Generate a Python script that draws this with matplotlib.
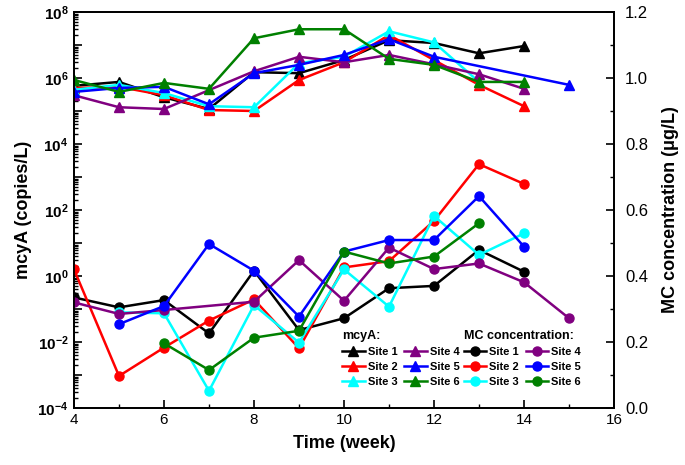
import numpy as np
import matplotlib
matplotlib.use('Agg')
import matplotlib.pyplot as plt
from matplotlib.ticker import FixedLocator, FixedFormatter, MultipleLocator, FormatStrFormatter, LogLocator, NullFormatter

plt.rcParams['font.family'] = ['Liberation Sans', 'DejaVu Sans']
plt.rcParams['mathtext.fontset'] = 'custom'
plt.rcParams['mathtext.bf'] = 'Liberation Sans:bold'
plt.rcParams['mathtext.rm'] = 'Liberation Sans:bold'

colors = ['black', '#ff0000', '#00ffff', '#800080', '#0000ff', '#008000']
sites = ['Site 1', 'Site 2', 'Site 3', 'Site 4', 'Site 5', 'Site 6']

# mcyA (copies/L), weeks per site
mcya_weeks = [
    [4, 5, 6, 7, 8, 9, 10, 11, 12, 13, 14],
    [4, 5, 6, 7, 8, 9, 10, 11, 12, 13, 14],
    [4, 5, 6, 7, 8, 9, 10, 11, 12, 13],
    [4, 5, 6, 8, 9, 10, 11, 12, 13, 14],
    [4, 5, 6, 7, 8, 9, 10, 11, 12, 15],
    [4, 5, 6, 7, 8, 9, 10, 11, 12, 13, 14],
]
mcya_vals = [
    [5.8e5, 7.6e5, 2.6e5, 1.15e5, 1.5e6, 1.4e6, 3.5e6, 1.4e7, 1.15e7, 5.6e6, 9.3e6],
    [5.0e5, 5.4e5, 3.0e5, 1.07e5, 1.0e5, 8.7e5, 3.0e6, 2.0e7, 3.5e6, 6.2e5, 1.4e5],
    [4.4e5, 6.2e5, 3.5e5, 1.4e5, 1.3e5, 2.8e6, 4.4e6, 2.6e7, 1.2e7, 7.6e5],
    [3.0e5, 1.3e5, 1.15e5, 1.6e6, 4.4e6, 3.0e6, 5.0e6, 2.6e6, 1.3e6, 4.7e5],
    [3.8e5, 5.0e5, 5.4e5, 1.6e5, 1.4e6, 2.5e6, 5.0e6, 1.5e7, 4.4e6, 6.2e5],
    [8.7e5, 3.8e5, 7.1e5, 4.7e5, 1.6e7, 3.0e7, 3.0e7, 3.8e6, 2.5e6, 7.6e5, 7.6e5],
]

# MC concentration (ug/L), weeks per site
mc_weeks = [
    [4, 5, 6, 7, 8, 9, 10, 11, 12, 13, 14],
    [4, 5, 6, 7, 8, 9, 10, 11, 12, 13, 14],
    [5, 6, 7, 8, 9, 10, 11, 12, 13, 14],
    [4, 5, 6, 8, 9, 10, 11, 12, 13, 14, 15],
    [5, 6, 7, 8, 9, 10, 11, 12, 13, 14],
    [6, 7, 8, 9, 10, 11, 12, 13],
]
mc_vals = [
    [0.335, 0.305, 0.327, 0.226, 0.416, 0.236, 0.272, 0.363, 0.37, 0.479, 0.413],
    [0.42, 0.097, 0.183, 0.265, 0.329, 0.181, 0.426, 0.445, 0.567, 0.739, 0.679],
    [0.29, 0.287, 0.052, 0.312, 0.198, 0.42, 0.307, 0.582, 0.464, 0.529],
    [0.32, 0.285, 0.297, 0.322, 0.448, 0.325, 0.486, 0.421, 0.438, 0.381, 0.272],
    [0.254, 0.309, 0.497, 0.416, 0.277, 0.474, 0.509, 0.509, 0.642, 0.489],
    [0.196, 0.115, 0.213, 0.234, 0.474, 0.438, 0.459, 0.56],
]

fig = plt.figure(figsize=(6.85, 4.65), dpi=100)
ax = fig.add_axes([74/685, 57/465, 540/685, 396/465])
ax2 = ax.twinx()

h1 = []
for w, v, c, s in zip(mcya_weeks, mcya_vals, colors, sites):
    l, = ax.plot(w, v, color=c, lw=1.8, marker='^', ms=7, label=s)
    h1.append(l)
h2 = []
for w, v, c, s in zip(mc_weeks, mc_vals, colors, sites):
    l, = ax2.plot(w, v, color=c, lw=1.8, marker='o', ms=6.5, label=s)
    h2.append(l)

ax.set_yscale('log')
ax.set_ylim(1e-4, 1e8)
ax.set_xlim(4, 16)
ax.yaxis.set_major_locator(FixedLocator([10.0**k for k in range(-4, 9)]))
ax.yaxis.set_major_formatter(FixedFormatter(
    [r'$\mathbf{10^{%d}}$' % k if k % 2 == 0 else '' for k in range(-4, 9)]))
ax.yaxis.set_minor_locator(LogLocator(base=10, subs=np.arange(2, 10), numticks=20))
ax.yaxis.set_minor_formatter(NullFormatter())
ax.xaxis.set_major_locator(MultipleLocator(2))
ax.xaxis.set_minor_locator(MultipleLocator(1))

ax2.set_ylim(0, 1.2)
ax2.yaxis.set_major_locator(MultipleLocator(0.2))
ax2.yaxis.set_minor_locator(MultipleLocator(0.1))
ax2.yaxis.set_major_formatter(FormatStrFormatter('%.1f'))

ax.tick_params(axis='both', which='major', direction='in', length=6, width=1.2, labelsize=11)
ax.tick_params(axis='both', which='minor', direction='in', length=3, width=1)
ax.tick_params(axis='y', labelsize=11, pad=4)
ax2.tick_params(axis='y', which='major', direction='in', length=6, width=1.2, labelsize=12, pad=8)
ax2.tick_params(axis='y', which='minor', direction='in', length=3, width=1)

for a in (ax, ax2):
    for sp in a.spines.values():
        sp.set_linewidth(1.3)

ax.set_xlabel('Time (week)', fontsize=13, fontweight='bold', labelpad=6)
ax.set_ylabel('mcyA (copies/L)', fontsize=13, fontweight='bold', labelpad=4)
ax2.set_ylabel('MC concentration (\u03bcg/L)', fontsize=13, fontweight='bold', labelpad=10)

leg_kw = dict(ncol=2, frameon=False, loc='upper left', handlelength=2.0,
              handletextpad=0.3, columnspacing=0.6, labelspacing=0.45,
              borderpad=0, borderaxespad=0, alignment='left',
              prop={'weight': 'bold', 'size': 8},
              title_fontproperties={'weight': 'bold', 'size': 9})
leg1 = ax2.legend(handles=h1, title='mcyA:', bbox_to_anchor=(0.497, 0.198), **leg_kw)
leg1._legend_box.sep = 4
ax2.add_artist(leg1)
leg2 = ax2.legend(handles=h2, title='MC concentration:', bbox_to_anchor=(0.722, 0.198), **leg_kw)
leg2._legend_box.sep = 4

fig.savefig('out.png', dpi=100)
